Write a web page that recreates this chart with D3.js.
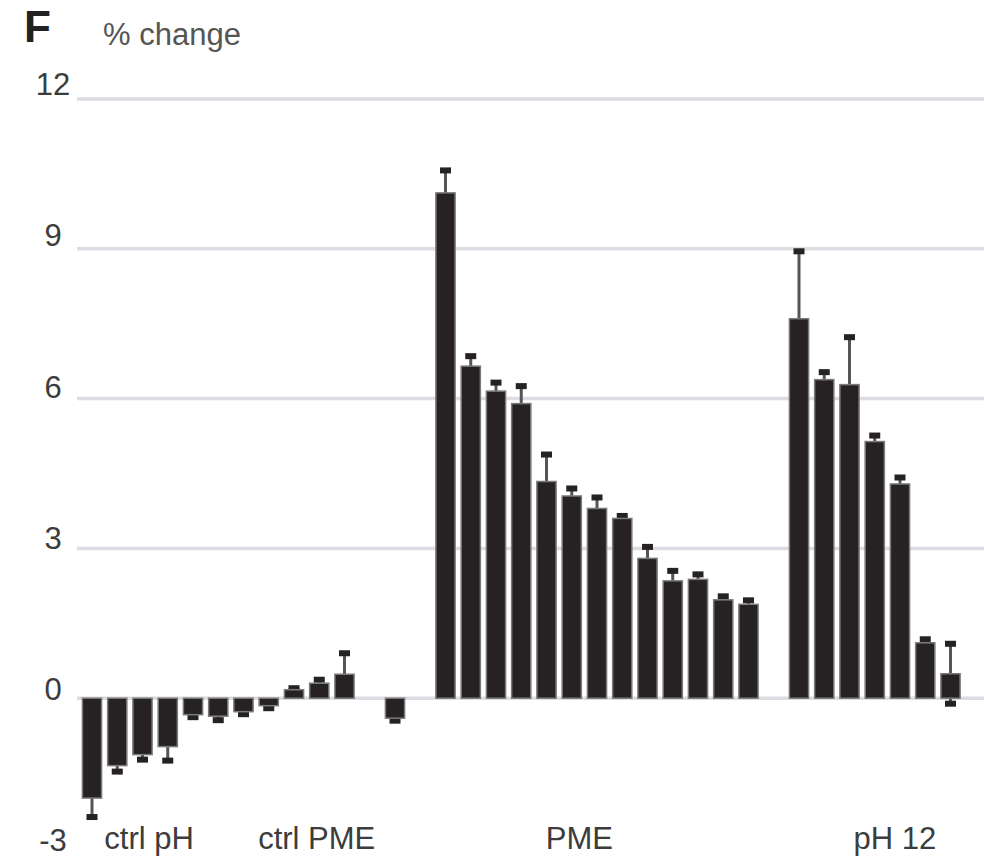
<!DOCTYPE html>
<html>
<head>
<meta charset="utf-8">
<script src="https://cdn.jsdelivr.net/npm/d3@7"></script>
<style>
  html, body { margin: 0; padding: 0; background: #fff; }
  svg { display: block; font-family: "Liberation Sans", Arial, sans-serif; }
</style>
</head>
<body>
<div id="chart"></div>
<script>
"use strict";

// chart data: % change per sample
const ctrlPhValues = [-2.0, -1.35, -1.13, -0.97, -0.33, -0.36, -0.27, -0.15, 0.17, 0.3, 0.48];
const ctrlPhErrors = [0.38, 0.12, 0.1, 0.28, 0.05, 0.08, 0.05, 0.05, 0.03, 0.07, 0.42];
const ctrlPmeValues = [-0.4];
const ctrlPmeErrors = [0.05];
const pmeValues = [10.12, 6.65, 6.15, 5.9, 4.34, 4.05, 3.8, 3.6, 2.8, 2.35, 2.38, 1.97, 1.88];
const pmeErrors = [0.45, 0.2, 0.17, 0.35, 0.54, 0.15, 0.22, 0.05, 0.23, 0.2, 0.1, 0.07, 0.08];
const ph12Values = [7.6, 6.38, 6.28, 5.14, 4.29, 1.11, 0.49];
const ph12Errors = [1.35, 0.15, 0.95, 0.12, 0.13, 0.07, 0.6];

const groupLabels = ["ctrl pH", "ctrl PME", "PME", "pH 12"];
const yTicks = [-3, 0, 3, 6, 9, 12];
const yGrid = [0, 3, 6, 9, 12];

// layout
const w = 984;
const h = 859;
const labelSlots = [2.26, 8.9, 19.3, 31.8]; // where the group labels sit, in bar slots

// build one row per bar, with empty slots between the groups
const groups = [
  { key: "a", values: ctrlPhValues, errors: ctrlPhErrors },
  { key: "b", values: ctrlPmeValues, errors: ctrlPmeErrors },
  { key: "c", values: pmeValues, errors: pmeErrors },
  { key: "d", values: ph12Values, errors: ph12Errors },
];
const slots = [];
const bars = [];
groups.forEach((g, gi) => {
  if (gi > 0) slots.push("gap" + gi);
  g.values.forEach((v, i) => {
    const id = g.key + i;
    slots.push(id);
    bars.push({ id: id, value: v, err: g.errors[i] });
  });
});

const svg = d3.select("#chart").append("svg").attr("width", w).attr("height", h);

const x = d3.scalePoint().domain(slots).range([92, 950.5]);
const step = x.step();
const barW = step * 0.76;

const y = d3.scaleLinear().domain([-3, 12]).range([848, 99]);

// gridlines
svg.append("g")
  .selectAll("line")
  .data(yGrid)
  .join("line")
  .attr("x1", 77)
  .attr("x2", w)
  .attr("y1", (d) => y(d))
  .attr("y2", (d) => y(d))
  .attr("stroke", "#dcdce2")
  .attr("stroke-width", 3.5);

// y labels (the printed labels drift a little relative to the gridlines)
const yAxis = d3.axisLeft(y).tickValues(yTicks).tickSize(0).tickPadding(0).tickFormat(d3.format("d"));
const yAxisG = svg.append("g").attr("transform", "translate(53,0)").call(yAxis);
yAxisG.select(".domain").remove();
yAxisG.selectAll(".tick")
  .attr("transform", (d) => `translate(0,${y(d) - 14 + (12 - d) * 0.5})`);
yAxisG.selectAll("text")
  .attr("text-anchor", "middle")
  .attr("dy", "0.32em")
  .attr("font-size", 31)
  .attr("font-family", "Liberation Sans, Arial, sans-serif")
  .attr("fill", "#3c3c3c")
  .text((d) => (d < 0 ? "-" + Math.abs(d) : d));

// error bars, drawn behind the bars so the inner half is hidden
const errG = svg.append("g");
errG.selectAll("line")
  .data(bars)
  .join("line")
  .attr("x1", (d) => x(d.id))
  .attr("x2", (d) => x(d.id))
  .attr("y1", (d) => y(d.value - d.err))
  .attr("y2", (d) => y(d.value + d.err))
  .attr("stroke", "#555")
  .attr("stroke-width", 3);

const capW = 11;
const capH = 6;
[-1, 1].forEach((sgn) => {
  errG.append("g")
    .selectAll("rect")
    .data(bars)
    .join("rect")
    .attr("x", (d) => x(d.id) - capW / 2)
    .attr("y", (d) => y(d.value + sgn * d.err) - capH / 2)
    .attr("width", capW)
    .attr("height", capH)
    .attr("fill", "#262223");
});

// bars
svg.append("g")
  .selectAll("rect")
  .data(bars)
  .join("rect")
  .attr("x", (d) => x(d.id) - barW / 2)
  .attr("y", (d) => y(Math.max(0, d.value)))
  .attr("width", barW)
  .attr("height", (d) => Math.abs(y(d.value) - y(0)))
  .attr("fill", "#262223")
  .attr("stroke", "#7a7a7a")
  .attr("stroke-width", 1.5);

// group labels under the bars
const x0 = x(slots[0]);
svg.append("g")
  .selectAll("text")
  .data(groupLabels)
  .join("text")
  .attr("x", (d, i) => x0 + labelSlots[i] * step)
  .attr("y", 849)
  .attr("text-anchor", "middle")
  .attr("font-size", 31)
  .attr("fill", "#3c3c3c")
  .text((d) => d);

// panel letter and axis title
svg.append("text")
  .attr("x", 24)
  .attr("y", 42)
  .attr("font-size", 44)
  .attr("font-weight", "bold")
  .attr("fill", "#222")
  .text("F");

svg.append("text")
  .attr("x", 103)
  .attr("y", 45)
  .attr("font-size", 31)
  .attr("fill", "#555")
  .text("% change");
</script>
</body>
</html>
